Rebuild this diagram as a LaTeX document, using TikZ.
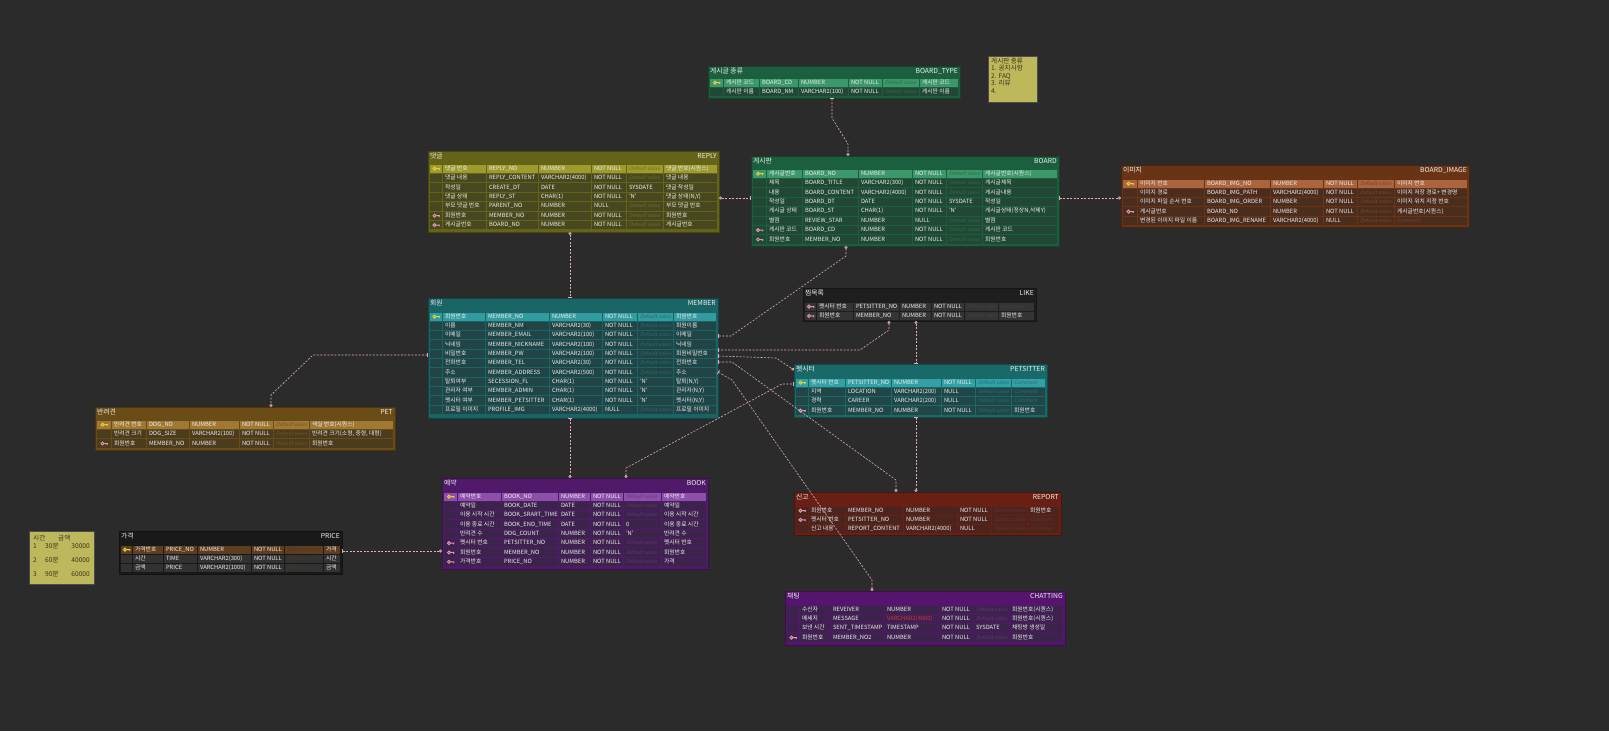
\documentclass[tikz,border=0pt]{standalone}
\usepackage{fontspec}
\setmainfont{Noto Sans CJK KR}
\newfontfamily\slantfont{Noto Sans CJK KR}[FakeSlant=0.2]
\usetikzlibrary{arrows.meta}

\definecolor{bgdark}{RGB}{43,43,43}
\definecolor{linkpink}{RGB}{226,172,192}
\definecolor{notefill}{RGB}{190,184,92}
\definecolor{notetextc}{RGB}{55,52,25}
\definecolor{celltextc}{RGB}{238,238,238}
\definecolor{keyyellow}{RGB}{228,204,60}
\definecolor{keypink}{RGB}{222,150,172}
\definecolor{redtype}{RGB}{215,50,50}

% colours of the table that is drawn next
\newcommand{\erdcolors}[3]{%
  \definecolor{tabtitle}{RGB}{#1}\definecolor{tabpk}{RGB}{#2}\definecolor{tabrow}{RGB}{#3}%
  \colorlet{tabfade}{tabpk!45!tabrow}}
% column edges: key, logical, physical, type, null, default, comment, end
\newcommand{\erdcols}[8]{\def\cA{#1}\def\cB{#2}\def\cC{#3}\def\cD{#4}\def\cE{#5}\def\cF{#6}\def\cG{#7}\def\cH{#8}}
\newcommand{\dv}{{\color{tabfade}\slantfont\fontsize{5.1}{6}\selectfont Default value}}
\newcommand{\cmt}{{\color{tabfade}\slantfont\fontsize{5.1}{6}\selectfont Comment}}

% box with its title bar
\newcommand{\erdbox}[7]{%
  \draw[tabtitle!70!black, fill=tabtitle] (#2,#3) rectangle (#4,#5);
  \coordinate (#1-nw) at (#2,#3);
  \coordinate (#1-se) at (#4,#5);
  \node[titletext, anchor=west] (#1-kr) at (#2+2,#3+6) {#6};
  \node[titletext, anchor=east] (#1-code) at (#4-2,#3+6) {#7};}

% one row: id, row, key, logical, physical, type, null, default, comment
\newcommand{\erdrow}[9]{%
  \pgfmathsetmacro\yT{\rTop+(#2-1)*\rH+0.5}
  \pgfmathsetmacro\yB{\yT+\rH-1}
  \pgfmathsetmacro\yM{(\yT+\yB)/2}
  \path[cell #3] (\cA,\yT) rectangle (\cB-0.6,\yB);
  \path[cell #3] (\cB,\yT) rectangle (\cC-0.6,\yB);
  \path[cell #3] (\cC,\yT) rectangle (\cD-0.6,\yB);
  \path[cell #3] (\cD,\yT) rectangle (\cE-0.6,\yB);
  \path[cell #3] (\cE,\yT) rectangle (\cF-0.6,\yB);
  \path[cell #3] (\cF,\yT) rectangle (\cG-0.6,\yB);
  \path[cell #3] (\cG,\yT) rectangle (\cH,\yB);
  \pic at ({(\cA+\cB)/2},\yM) {key #3};
  \node[celltext] (#1-#2-l) at (\cB+1.8,\yM) {#4};
  \node[celltext] (#1-#2-p) at (\cC+1.8,\yM) {#5};
  \node[celltext] (#1-#2-t) at (\cD+1.8,\yM) {#6};
  \node[celltext] (#1-#2-n) at (\cE+1.8,\yM) {#7};
  \node[celltext] (#1-#2-d) at (\cF+1.8,\yM) {#8};
  \node[celltext] (#1-#2-c) at (\cG+1.8,\yM) {#9};}

\tikzset{
  titletext/.style={font=\fontsize{6.8}{7.5}\selectfont, text=celltextc, inner sep=0pt, text height=4.9pt, text depth=1pt},
  celltext/.style={font=\fontsize{5.8}{7}\selectfont, text=celltextc, inner sep=0pt, anchor=west, text height=4.2pt, text depth=0.9pt},
  notetext/.style={font=\fontsize{6.6}{7.6}\selectfont, text=notetextc, inner sep=0pt, align=left},
  cell pk/.style={fill=tabpk},
  cell fk/.style={fill=tabrow},
  cell no/.style={fill=tabrow},
  key pk/.pic={\draw[keyyellow, line width=1pt] (-2,0) circle (1.5) (-0.5,0) -- (3.4,0) (2.5,0) -- (2.5,1.3);},
  key fk/.pic={\draw[keypink, line width=1pt] (-2,0) circle (1.5) (-0.5,0) -- (3.4,0) (2.5,0) -- (2.5,1.3);},
  key no/.pic={},
  link/.style={draw=linkpink, line width=0.6pt, dash pattern=on 2pt off 1.5pt},
  pc/.style={arrows={Bar[width=4.5pt,line width=0.8pt]-Circle[open,length=3pt,width=3pt,line width=0.7pt]}},
  cp/.style={arrows={Circle[open,length=3pt,width=3pt,line width=0.7pt]-Bar[width=4.5pt,line width=0.8pt]}},
}

\begin{document}
\begin{tikzpicture}[x=1pt, y=-1pt]
\useasboundingbox (0,0) rectangle (1609,731);
\fill[bgdark] (0,0) rectangle (1609,731);

% board type
\erdcolors{28,95,62}{60,152,106}{33,72,52}
\erdbox{btype}{708}{66}{960}{98}{게시글 종류}{BOARD\_TYPE}
\erdcols{710}{724}{760}{799}{849}{883}{920}{958}
\def\rTop{78}\def\rH{9.3}
\foreach \ic/\lg/\ph/\ty/\nu/\df/\cm [count=\r] in {
  pk/게시판 코드/BOARD\_CD/NUMBER/NOT NULL/\dv/게시판 코드,
  no/게시판 이름/BOARD\_NM/VARCHAR2(100)/NOT NULL/\dv/게시판 이름}
  {\erdrow{btype}{\r}{\ic}{\lg}{\ph}{\ty}{\nu}{\df}{\cm}}

% board
\erdbox{board}{751}{156}{1059}{246}{게시판}{BOARD}
\erdcols{753}{767}{803}{859}{913}{947}{983}{1057}
\def\rTop{169}\def\rH{9.4}
\foreach \ic/\lg/\ph/\ty/\nu/\df/\cm [count=\r] in {
  pk/게시글번호/BOARD\_NO/NUMBER/NOT NULL/\dv/게시글번호(시퀀스),
  no/제목/BOARD\_TITLE/VARCHAR2(300)/NOT NULL/\dv/게시글제목,
  no/내용/BOARD\_CONTENT/VARCHAR2(4000)/NOT NULL/\dv/게시글내용,
  no/작성일/BOARD\_DT/DATE/NOT NULL/SYSDATE/작성일,
  no/게시글 상태/BOARD\_ST/CHAR(1)/NOT NULL/'N'/{게시글상태(정상N,삭제Y)},
  no/별점/REVIEW\_STAR/NUMBER/NULL/\dv/별점,
  fk/게시판 코드/BOARD\_CD/NUMBER/NOT NULL/\dv/게시판 코드,
  fk/회원번호/MEMBER\_NO/NUMBER/NOT NULL/\dv/회원번호}
  {\erdrow{board}{\r}{\ic}{\lg}{\ph}{\ty}{\nu}{\df}{\cm}}

% reply
\erdcolors{100,100,22}{156,156,46}{72,72,32}
\erdbox{reply}{428}{151}{719}{232}{댓글}{REPLY}
\erdcols{430}{443}{487}{539}{592}{627}{664}{717}
\def\rTop{164}\def\rH{9.4}
\foreach \ic/\lg/\ph/\ty/\nu/\df/\cm [count=\r] in {
  pk/댓글 번호/REPLY\_NO/NUMBER/NOT NULL/\dv/댓글 번호(시퀀스),
  no/댓글 내용/REPLY\_CONTENT/VARCHAR2(4000)/NOT NULL/\dv/댓글 내용,
  no/작성일/CREATE\_DT/DATE/NOT NULL/SYSDATE/댓글 작성일,
  no/댓글 상태/REPLY\_ST/CHAR(1)/NOT NULL/'N'/{댓글 상태(N,Y)},
  no/부모 댓글 번호/PARENT\_NO/NUMBER/NULL/\dv/부모 댓글 번호,
  fk/회원번호/MEMBER\_NO/NUMBER/NOT NULL/\dv/회원번호,
  fk/게시글번호/BOARD\_NO/NUMBER/NOT NULL/\dv/게시글번호}
  {\erdrow{reply}{\r}{\ic}{\lg}{\ph}{\ty}{\nu}{\df}{\cm}}

% board image
\erdcolors{105,52,22}{170,100,62}{75,45,30}
\erdbox{bimg}{1121}{165}{1469}{227}{이미지}{BOARD\_IMAGE}
\erdcols{1123}{1138}{1205}{1271}{1324}{1358}{1395}{1467}
\def\rTop{179}\def\rH{9.3}
\foreach \ic/\lg/\ph/\ty/\nu/\df/\cm [count=\r] in {
  pk/이미지 번호/BOARD\_IMG\_NO/NUMBER/NOT NULL/\dv/이미지 번호,
  no/이미지 경로/BOARD\_IMG\_PATH/VARCHAR2(4000)/NOT NULL/\dv/이미지 저장 경로+ 변경명,
  no/이미지 파일 순서 번호/BOARD\_IMG\_ORDER/NUMBER/NOT NULL/\dv/이미지 위치 지정 번호,
  fk/게시글번호/BOARD\_NO/NUMBER/NOT NULL/\dv/게시글번호(시퀀스),
  no/변경된 이미지 파일 이름/BOARD\_IMG\_RENAME/VARCHAR2(4000)/NULL/\dv/\cmt}
  {\erdrow{bimg}{\r}{\ic}{\lg}{\ph}{\ty}{\nu}{\df}{\cm}}

% member
\erdcolors{25,100,100}{50,155,160}{33,68,70}
\erdbox{member}{428}{298}{718}{418}{회원}{MEMBER}
\erdcols{430}{443}{486}{550}{603}{638}{674}{716}
\def\rTop{312}\def\rH{9.3}
\foreach \ic/\lg/\ph/\ty/\nu/\df/\cm [count=\r] in {
  pk/회원번호/MEMBER\_NO/NUMBER/NOT NULL/\dv/회원번호,
  no/이름/MEMBER\_NM/VARCHAR2(30)/NOT NULL/\dv/회원이름,
  no/이메일/MEMBER\_EMAIL/VARCHAR2(100)/NOT NULL/\dv/이메일,
  no/닉네임/MEMBER\_NICKNAME/VARCHAR2(100)/NOT NULL/\dv/닉네임,
  no/비밀번호/MEMBER\_PW/VARCHAR2(100)/NOT NULL/\dv/회원비밀번호,
  no/전화번호/MEMBER\_TEL/VARCHAR2(30)/NOT NULL/\dv/전화번호,
  no/주소/MEMBER\_ADDRESS/VARCHAR2(500)/NOT NULL/\dv/주소,
  no/탈퇴여부/SECESSION\_FL/CHAR(1)/NOT NULL/'N'/{탈퇴(N,Y)},
  no/관리자 여부/MEMBER\_ADMIN/CHAR(1)/NOT NULL/'N'/{관리자(N,Y)},
  no/펫시터 여부/MEMBER\_PETSITTER/CHAR(1)/NOT NULL/'N'/{펫시터(N,Y)},
  no/프로필 이미지/PROFILE\_IMG/VARCHAR2(4000)/NULL/\dv/프로필 이미지}
  {\erdrow{member}{\r}{\ic}{\lg}{\ph}{\ty}{\nu}{\df}{\cm}}

% like
\erdcolors{30,30,30}{90,90,90}{52,52,52}
\erdbox{like}{803}{288}{1036}{321}{찜목록}{LIKE}
\erdcols{805}{817}{854}{900}{932}{965}{999}{1034}
\def\rTop{302}\def\rH{9.3}
\foreach \ic/\lg/\ph/\ty/\nu/\df/\cm [count=\r] in {
  fk/펫시터 번호/PETSITTER\_NO/NUMBER/NOT NULL/\dv/\cmt,
  fk/회원번호/MEMBER\_NO/NUMBER/NOT NULL/\dv/회원번호}
  {\erdrow{like}{\r}{\ic}{\lg}{\ph}{\ty}{\nu}{\df}{\cm}}

% petsitter
\erdcolors{25,105,105}{50,160,165}{33,70,72}
\erdbox{sitter}{794}{364}{1047}{417}{펫시터}{PETSITTER}
\erdcols{796}{809}{846}{892}{942}{976}{1012}{1045}
\def\rTop{378}\def\rH{9.3}
\foreach \ic/\lg/\ph/\ty/\nu/\df/\cm [count=\r] in {
  pk/펫시터 번호/PETSITTER\_NO/NUMBER/NOT NULL/\dv/\cmt,
  no/지역/LOCATION/VARCHAR2(200)/NULL/\dv/\cmt,
  no/경력/CAREER/VARCHAR2(200)/NULL/\dv/\cmt,
  fk/회원번호/MEMBER\_NO/NUMBER/NOT NULL/\dv/회원번호}
  {\erdrow{sitter}{\r}{\ic}{\lg}{\ph}{\ty}{\nu}{\df}{\cm}}

% pet
\erdcolors{105,76,22}{160,120,52}{75,60,30}
\erdbox{pet}{95}{407}{395}{450}{반려견}{PET}
\erdcols{97}{112}{147}{190}{240}{274}{310}{393}
\def\rTop{420}\def\rH{9.4}
\foreach \ic/\lg/\ph/\ty/\nu/\df/\cm [count=\r] in {
  pk/반려견 번호/DOG\_NO/NUMBER/NOT NULL/\dv/색실 번호(시퀀스),
  no/반려견 크기/DOG\_SIZE/VARCHAR2(100)/NOT NULL/\dv/{반려견 크기(소형, 중형, 대형)},
  fk/회원번호/MEMBER\_NO/NUMBER/NOT NULL/\dv/회원번호}
  {\erdrow{pet}{\r}{\ic}{\lg}{\ph}{\ty}{\nu}{\df}{\cm}}

% book
\erdcolors{80,25,105}{140,80,170}{60,35,75}
\erdbox{book}{442}{478}{708}{569}{예약}{BOOK}
\erdcols{444}{458}{502}{559}{591}{624}{662}{706}
\def\rTop{492}\def\rH{9.3}
\foreach \ic/\lg/\ph/\ty/\nu/\df/\cm [count=\r] in {
  pk/예약번호/BOOK\_NO/NUMBER/NOT NULL/\dv/예약번호,
  no/예약일/BOOK\_DATE/DATE/NOT NULL/\dv/예약일,
  no/이용 시작 시간/BOOK\_SRART\_TIME/DATE/NOT NULL/\dv/이용 시작 시간,
  no/이용 종료 시간/BOOK\_END\_TIME/DATE/NOT NULL/0/이용 종료 시간,
  no/반려견 수/DOG\_COUNT/NUMBER/NOT NULL/'N'/반려견 수,
  fk/펫시터 번호/PETSITTER\_NO/NUMBER/NOT NULL/\dv/펫시터 번호,
  fk/회원번호/MEMBER\_NO/NUMBER/NOT NULL/\dv/회원번호,
  fk/가격번호/PRICE\_NO/NUMBER/NOT NULL/\dv/가격}
  {\erdrow{book}{\r}{\ic}{\lg}{\ph}{\ty}{\nu}{\df}{\cm}}

% report
\erdcolors{105,32,20}{150,62,48}{75,36,30}
\erdbox{report}{794}{492}{1061}{535}{신고}{REPORT}
\erdcols{796}{809}{846}{904}{958}{992}{1028}{1059}
\def\rTop{506}\def\rH{9.2}
\foreach \ic/\lg/\ph/\ty/\nu/\df/\cm [count=\r] in {
  fk/회원번호/MEMBER\_NO/NUMBER/NOT NULL/\dv/회원번호,
  fk/펫시터 번호/PETSITTER\_NO/NUMBER/NOT NULL/\dv/\cmt,
  no/신고 내용/REPORT\_CONTENT/VARCHAR2(4000)/NULL/\dv/\cmt}
  {\erdrow{report}{\r}{\ic}{\lg}{\ph}{\ty}{\nu}{\df}{\cm}}

% price
\erdcolors{25,25,25}{95,62,32}{50,50,50}
\erdbox{price}{119}{531}{342}{574}{가격}{PRICE}
\erdcols{121}{133}{164}{198}{252}{285}{324}{340}
\def\rTop{545}\def\rH{9.2}
\foreach \ic/\lg/\ph/\ty/\nu/\df/\cm [count=\r] in {
  pk/가격번호/PRICE\_NO/NUMBER/NOT NULL/\dv/가격,
  no/시간/TIME/VARCHAR2(300)/NOT NULL/\dv/시간,
  no/금액/PRICE/VARCHAR2(1000)/NOT NULL/\dv/금액}
  {\erdrow{price}{\r}{\ic}{\lg}{\ph}{\ty}{\nu}{\df}{\cm}}

% chatting
\erdcolors{85,20,110}{140,80,170}{60,35,75}
\erdbox{chat}{785}{591}{1065}{645}{채팅}{CHATTING}
\erdcols{787}{800}{831}{885}{940}{974}{1010}{1063}
\def\rTop{605}\def\rH{9.3}
\foreach \ic/\lg/\ph/\ty/\nu/\df/\cm [count=\r] in {
  no/수신자/REVEIVER/NUMBER/NOT NULL/\dv/회원번호(시퀀스),
  no/메세지/MESSAGE/\textcolor{redtype}{VARCHAR2(4000)}/NOT NULL/\dv/회원번호(시퀀스),
  no/보낸 시간/SENT\_TIMESTAMP/TIMESTAMP/NOT NULL/SYSDATE/채팅방 생성일,
  fk/회원번호/MEMBER\_NO2/NUMBER/NOT NULL/\dv/회원번호}
  {\erdrow{chat}{\r}{\ic}{\lg}{\ph}{\ty}{\nu}{\df}{\cm}}

% notes
\draw[black!70, fill=notefill] (988,56) rectangle (1037,102);
\node[notetext, anchor=north west] (typenote) at (991,57.5) {게시판 종류\\1. 공지사항\\2. FAQ\\3. 리뷰\\4.};
\draw[black!70, fill=notefill] (29,531) rectangle (94,584);
\node[notetext, anchor=west] (pn-h1) at (33,538) {시간};
\node[notetext, anchor=west] (pn-h2) at (58,538) {금액};
\foreach \n/\t/\w/\y in {1/30분/30000/546, 2/60분/40000/560, 3/90분/60000/574}{
  \node[notetext, anchor=west] (pn-n\n) at (33,\y) {\n};
  \node[notetext, anchor=west] (pn-t\n) at (45,\y) {\t};
  \node[notetext, anchor=east] (pn-w\n) at (90,\y) {\w};
}

% connectors
\coordinate (c-btype) at (832,98);
\coordinate (c-board-n) at (848,156);
\draw[link, pc] (c-btype) -- (832,118) -- (848,144) -- (c-board-n);
\coordinate (c-reply-e) at (719,198);
\coordinate (c-board-w) at (751,198);
\draw[link, cp] (c-reply-e) -- (c-board-w);
\coordinate (c-reply-s) at (570,232);
\coordinate (c-member-n) at (570,298);
\draw[link, cp] (c-reply-s) -- (c-member-n);
\coordinate (c-board-s) at (846,246);
\coordinate (c-member-e1) at (718,336);
\draw[link, cp] (c-board-s) -- (846,256) -- (731,336) -- (c-member-e1);
\coordinate (c-board-e) at (1059,198);
\coordinate (c-bimg-w) at (1121,198);
\draw[link, pc] (c-board-e) -- (c-bimg-w);
\coordinate (c-member-w) at (428,355);
\coordinate (c-pet-n) at (271,407);
\draw[link, pc] (c-member-w) -- (313,355) -- (271,395) -- (c-pet-n);
\coordinate (c-like-s1) at (889,321);
\coordinate (c-member-e2) at (718,350);
\draw[link, cp] (c-like-s1) -- (889,330) -- (860,350) -- (c-member-e2);
\coordinate (c-like-s2) at (916,321);
\coordinate (c-sitter-n) at (916,364);
\draw[link, cp] (c-like-s2) -- (c-sitter-n);
\coordinate (c-member-e3) at (718,356);
\coordinate (c-sitter-w1) at (794,370);
\draw[link, pc] (c-member-e3) -- (776,358) -- (c-sitter-w1);
\coordinate (c-member-s) at (570,418);
\coordinate (c-book-n1) at (570,478);
\draw[link, pc] (c-member-s) -- (c-book-n1);
\coordinate (c-book-n2) at (626,478);
\coordinate (c-sitter-w2) at (794,384);
\draw[link, cp] (c-book-n2) -- (626,468) -- (782,384) -- (c-sitter-w2);
\coordinate (c-member-e4) at (718,362);
\coordinate (c-report-n1) at (896,492);
\draw[link, pc] (c-member-e4) -- (732,362) -- (896,480) -- (c-report-n1);
\coordinate (c-sitter-s) at (916,417);
\coordinate (c-report-n2) at (916,492);
\draw[link, pc] (c-sitter-s) -- (c-report-n2);
\coordinate (c-member-e5) at (718,372);
\coordinate (c-chat-n) at (872,591);
\draw[link, pc] (c-member-e5) -- (732,380) -- (872,580) -- (c-chat-n);
\coordinate (c-price-e) at (342,551);
\coordinate (c-book-w) at (442,551);
\draw[link, pc] (c-price-e) -- (c-book-w);
\end{tikzpicture}
\end{document}
